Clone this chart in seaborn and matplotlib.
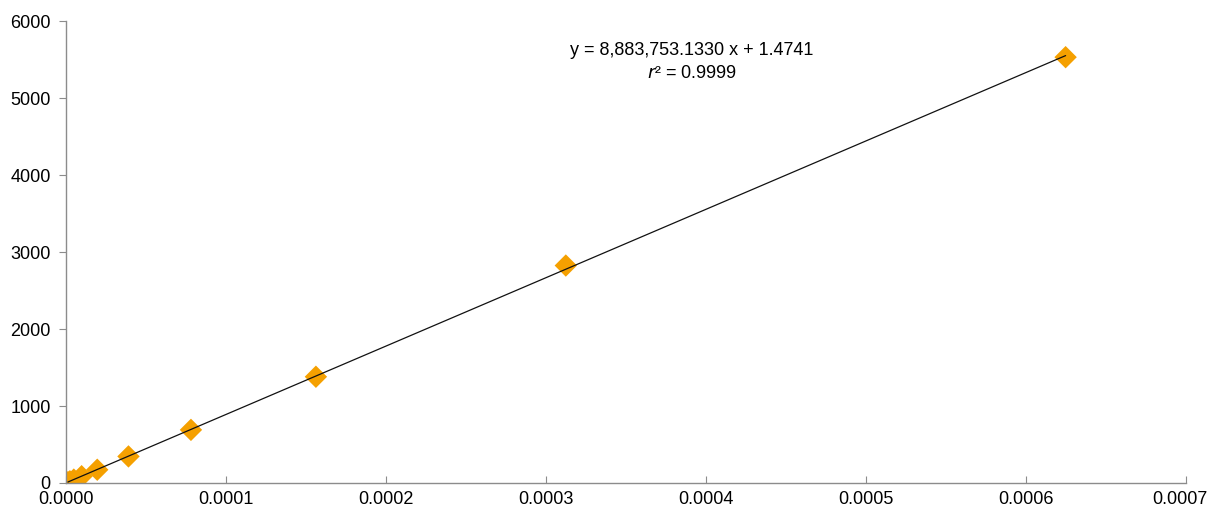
import numpy as np
import pandas as pd
import matplotlib
matplotlib.use("Agg")
import matplotlib.pyplot as plt
import matplotlib.transforms as mtransforms
import seaborn as sns

# serial dilution standards
conc = [0.000625, 0.0003125, 0.00015625, 0.000078125, 0.0000390625,
        0.0000195313, 0.0000097656, 0.0000048828, 0.0000024414, 0.0000012207]
signal = [5532, 2825, 1380, 690, 345, 172, 88, 44, 22, 11]
xticks = [0, 0.0001, 0.0002, 0.0003, 0.0004, 0.0005, 0.0006, 0.0007]
yticks = [0, 1000, 2000, 3000, 4000, 5000, 6000]
eq_text = "y = 8,883,753.1330 x + 1.4741"

df = pd.DataFrame({"conc": conc, "signal": signal})

sns.set_style("white")
plt.rcParams['font.family'] = ['Liberation Sans', 'DejaVu Sans']

fig = plt.figure(figsize=(12.11, 5.16), dpi=100)
ax = fig.add_axes([0.0545, 0.064, 0.9245, 0.895])

sns.regplot(data=df, x="conc", y="signal", ax=ax, ci=None,
            marker="D", color="#F5A000",
            scatter_kws={"s": 130, "edgecolor": "none", "alpha": 1, "zorder": 2},
            line_kws={"color": "#111111", "lw": 0.9, "zorder": 3})

ax.set_xlim(0, 0.0007)
ax.set_ylim(0, 6000)
ax.set_xticks(xticks)
ax.set_yticks(yticks)
ax.set_xticklabels([f"{t:.4f}" for t in xticks])
ax.set_xlabel("")
ax.set_ylabel("")

for s in ["top", "right"]:
    ax.spines[s].set_visible(False)
for s in ["left", "bottom"]:
    ax.spines[s].set_color("#8c8c8c")
    ax.spines[s].set_linewidth(1)

ax.tick_params(axis="y", direction="out", length=5, color="#8c8c8c",
               labelsize=13, labelcolor="black", left=True, pad=6)
ax.tick_params(axis="x", direction="in", length=5, color="#8c8c8c",
               labelsize=13, labelcolor="black", bottom=True, pad=6)

# last x label nudged left so it stays inside the figure
last = ax.get_xticklabels()[-1]
last.set_transform(last.get_transform() +
                   mtransforms.ScaledTranslation(-6 / 100, 0, fig.dpi_scale_trans))

ax.text(0.559, 0.937, eq_text, transform=ax.transAxes, ha="center",
        va="center", fontsize=13, color="black")
ax.text(0.559, 0.887, r"$\mathit{r}$² = 0.9999", transform=ax.transAxes,
        ha="center", va="center", fontsize=13, color="black")

for lab in ax.get_xticklabels() + ax.get_yticklabels():
    lab.set_clip_on(False)

fig.savefig("out.png", dpi=100)
